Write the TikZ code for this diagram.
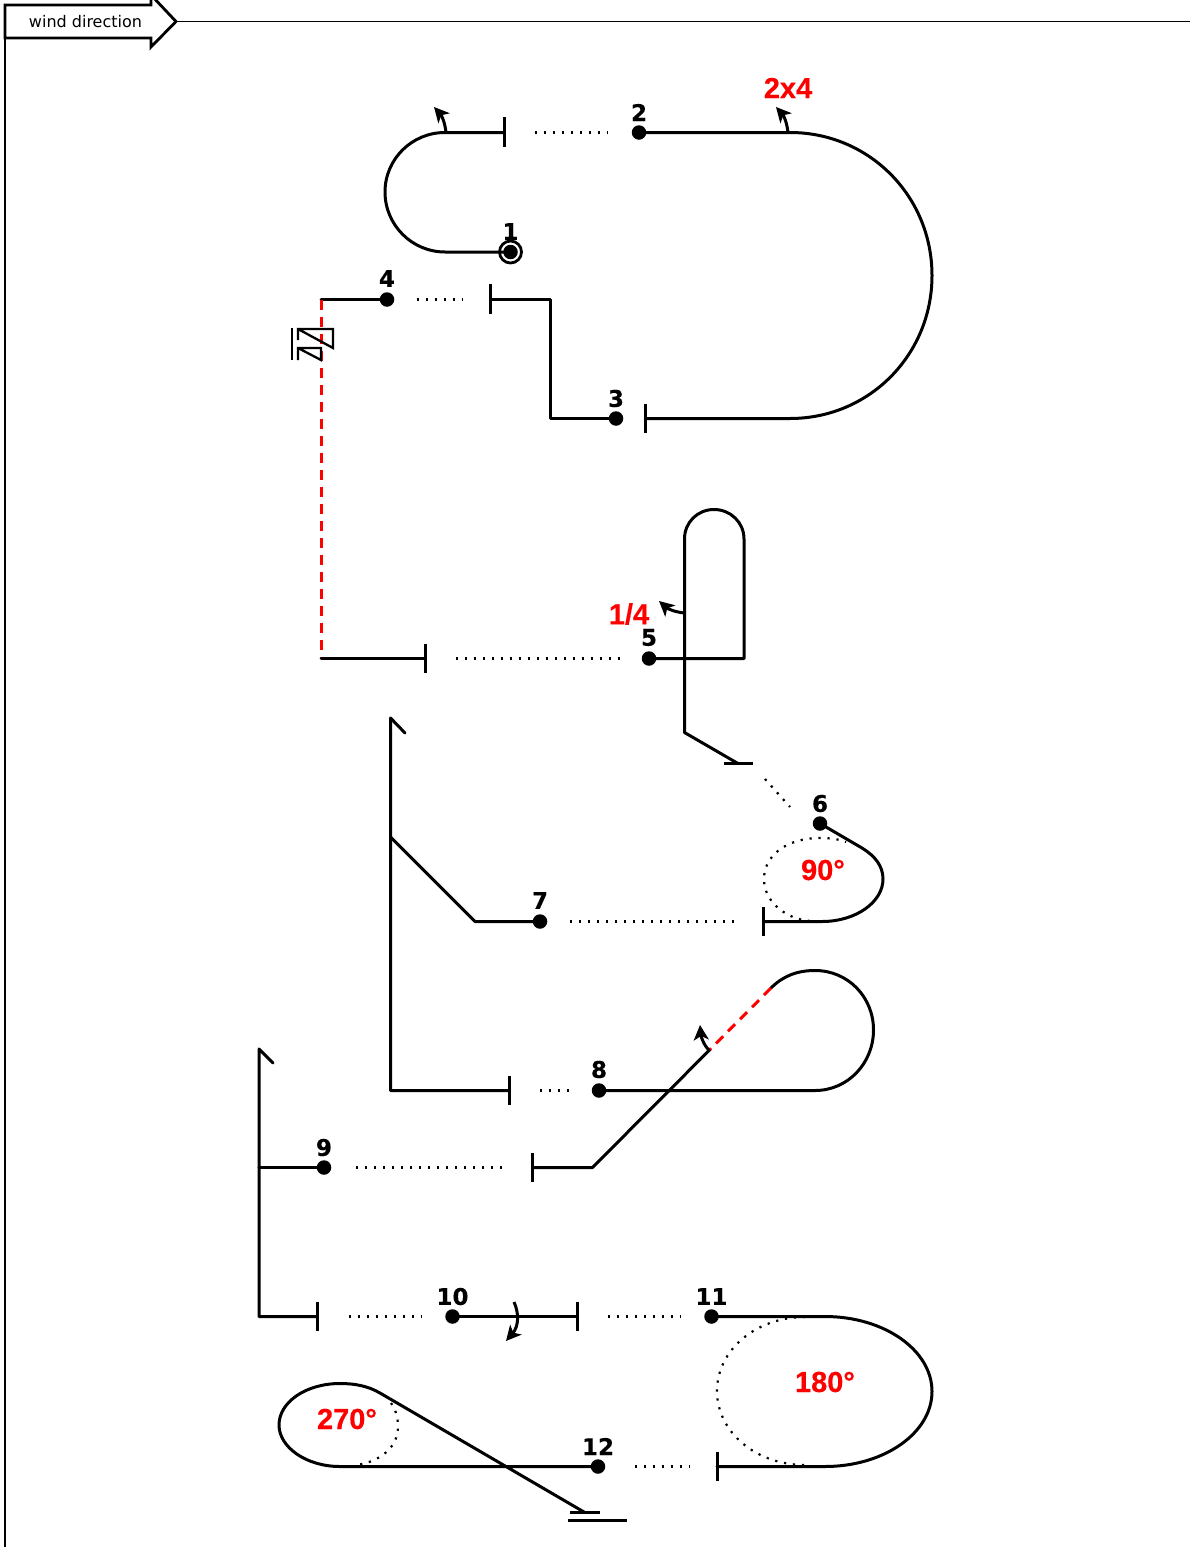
\documentclass[tikz,border=0pt]{standalone}
\usepackage{fontspec}
\setmainfont{DejaVu Sans}
\newfontfamily\redfont{Liberation Sans}[BoldFeatures={FakeBold=0.4}]
\newfontfamily\numfont{DejaVu Sans}[BoldFeatures={FakeBold=0.3}]
\usetikzlibrary{arrows.meta}
\definecolor{redtxt}{RGB}{255,0,0}
\tikzset{
  x=1pt,y=-1pt,
  track/.style={draw=black,line width=3pt,line join=round,line cap=round},
  tick/.style={draw=black,line width=3pt},
  thin line/.style={draw=black,line width=1.7pt},
  dotline/.style={draw=black,line width=2.2pt,dash pattern=on 2.2pt off 6.8pt},
  reddash/.style={draw=red,line width=3pt,dash pattern=on 10pt off 7pt},
  turn/.style={draw=black,line width=3pt,-{Stealth[length=15pt,width=15pt,inset=4pt]}},
  wp/.style={circle,fill=black,minimum size=14.5pt,inner sep=0pt},
  num/.style={font=\fontsize{23}{23}\selectfont\numfont\bfseries,text=black,inner sep=0pt},
  redlab/.style={font=\fontsize{29}{29}\selectfont\redfont\bfseries,text=redtxt,inner sep=0pt},
}
\begin{document}
\begin{tikzpicture}
\useasboundingbox (0,0) rectangle (1190,1547);
\clip (0,0) rectangle (1190,1547);
% frame and wind arrow
\coordinate (tip) at (176,21.5);
\coordinate (rightend) at (1190,21.5);
\coordinate (framebot) at (5,1547);
\draw[thin line] (tip) -- (rightend);
\draw[line width=2.8pt,line join=miter,fill=white] (5,5) -- (151,5) -- (151,-5) -- (tip) -- (151,47) -- (151,38) -- (5,38) -- cycle;
\node[inner sep=0pt,font=\fontsize{16}{16}\selectfont] (wind) at (85.5,22) {wind direction};
\draw[thin line] (5,38) -- (framebot);
% waypoints
\node[wp] (p1) at (510.5,252) {};
\node[wp] (p2) at (639,132.5) {};
\node[wp] (p3) at (616,418.5) {};
\node[wp] (p4) at (387,299.5) {};
\node[wp] (p5) at (649,658.5) {};
\node[wp] (p6) at (820,823.5) {};
\node[wp] (p7) at (540,921.5) {};
\node[wp] (p8) at (599,1090.5) {};
\node[wp] (p9) at (324,1167.5) {};
\node[wp] (p10) at (452.5,1316.5) {};
\node[wp] (p11) at (711.5,1316.5) {};
\node[wp] (p12) at (598,1466.5) {};
\node[draw=black,line width=2.8pt,circle,minimum size=22pt,inner sep=0pt] (ring) at (p1) {};
% numbers
\node[num] (n1) at (510.5,231.5) {1};
\node[num] (n2) at (639,112.5) {2};
\node[num] (n3) at (616,398.5) {3};
\node[num] (n4) at (387,278.5) {4};
\node[num] (n5) at (649,637.5) {5};
\node[num] (n6) at (820,803.5) {6};
\node[num] (n7) at (540,900.5) {7};
\node[num] (n8) at (599,1069.5) {8};
\node[num] (n9) at (324,1147.5) {9};
\node[num] (n10) at (452.5,1296.5) {10};
\node[num] (n11) at (711.5,1296.5) {11};
\node[num] (n12) at (598,1446.5) {12};
% red labels
\node[redlab] (l2x4) at (788,88) {2x4};
\node[redlab] (l14) at (629,614) {1/4};
\node[redlab] (l90) at (823,870) {90°};
\node[redlab] (l180) at (825,1382) {180°};
\node[redlab] (l270) at (347,1419) {270°};
% leg 1-2
\draw[track] (p1.center) -- (445,252) .. controls (412,252) and (385,225) .. (385,192) .. controls (385,159) and (412,132.5) .. (445,132.5) -- (504.5,132.5);
\draw[tick] (504.5,117) -- (504.5,147);
\draw[dotline] (534.5,132.5) -- (607,132.5);
\draw[turn] (446,132.5) .. controls (445,123) and (442,116) .. (434,107);
% leg 2-3
\draw[track] (p2.center) -- (790,132.5) .. controls (869,132.5) and (932,196) .. (932,275.5) .. controls (932,355) and (869,418.5) .. (790,418.5) -- (645.5,418.5);
\draw[tick] (645.5,404) -- (645.5,433);
\draw[turn] (788,132.5) .. controls (787,123) and (784,116) .. (776,107);
% leg 3-4
\draw[track] (p3.center) -- (550.5,418.5) -- (550.5,299.5) -- (490.5,299.5);
\draw[tick] (490.5,284) -- (490.5,314);
\draw[dotline] (416.5,299.5) -- (463,299.5);
% leg 4-5
\draw[track] (p4.center) -- (321,299.5);
\draw[reddash] (321,299.5) -- (321,658.5);
\draw[track] (321,658.5) -- (425.5,658.5);
\draw[tick] (425.5,644) -- (425.5,673);
\draw[dotline] (455.5,658.5) -- (621,658.5);
% pitch symbol
\draw[line width=2.8pt] (292,328) -- (292,360);
\draw[line width=2.3pt,line join=miter] (298,340) -- (298,329) -- (333,329) -- (333,348) -- (298,329);
\draw[line width=2.3pt,line join=miter] (298,360) -- (298,348) -- (321,348) -- (321,360) -- (298,348);
% leg 5-6
\draw[track] (p5.center) -- (744,658.5) -- (744,539) .. controls (744,522.4) and (730.6,509.5) .. (714,509.5) .. controls (697.4,509.5) and (684.5,522.4) .. (684.5,539) -- (684.5,732.5) -- (738,763.5);
\draw[tick] (724,763.5) -- (753,763.5);
\draw[turn] (684.5,613) .. controls (675,612) and (668,609) .. (659,601);
\draw[dotline] (765,779) -- (790,807);
% leg 6-7
\draw[track] (p6.center) -- (862,848) .. controls (875,856) and (883,866) .. (883,879) .. controls (883,902) and (856,921.5) .. (822,921.5) -- (763.5,921.5);
\draw[tick] (763.5,907) -- (763.5,936);
\draw[dotline] (810,921) .. controls (786,919) and (764,902) .. (764,879) .. controls (764,856) and (786,838) .. (820,838) .. controls (830,838) and (838,839) .. (846,842);
\draw[dotline] (570,921.5) -- (736,921.5);
% leg 7-8
\draw[track] (p7.center) -- (475,921.5) -- (390.5,837);
\draw[track] (405,733) -- (390.5,718) -- (390.5,1090.5) -- (509.5,1090.5);
\draw[tick] (509.5,1076) -- (509.5,1105);
\draw[dotline] (540,1090.5) -- (569,1090.5);
% leg 8-9
\draw[track] (p8.center) -- (815,1090.5) .. controls (848,1090.5) and (873.5,1063) .. (873.5,1030) .. controls (873.5,997) and (848,970.5) .. (815,970.5) .. controls (797,970.5) and (783,976) .. (771,988);
\draw[track] (710,1049.5) -- (592.5,1167.5) -- (532.5,1167.5);
\draw[reddash] (771,988) -- (710,1049.5);
\draw[tick] (532.5,1153) -- (532.5,1182);
\draw[turn] (709,1050.5) .. controls (704,1045) and (701,1037) .. (700,1025);
\draw[dotline] (356,1167.5) -- (505,1167.5);
% leg 9-10
\draw[track] (p9.center) -- (259,1167.5);
\draw[track] (273,1063) -- (259,1049) -- (259,1316.5) -- (317.5,1316.5);
\draw[tick] (317.5,1302) -- (317.5,1331);
\draw[dotline] (348.5,1316.5) -- (421,1316.5);
% leg 10-11
\draw[track] (p10.center) -- (577.5,1316.5);
\draw[tick] (577.5,1302) -- (577.5,1331);
\draw[turn] (514,1302) .. controls (519,1313) and (519,1326) .. (506,1341);
\draw[dotline] (607.5,1316.5) -- (680,1316.5);
% leg 11-12
\draw[track] (p11.center) -- (825,1316.5) .. controls (884,1316.5) and (932,1350) .. (932,1391.5) .. controls (932,1433) and (884,1466.5) .. (825,1466.5) -- (717,1466.5);
\draw[tick] (717,1452) -- (717,1481);
\draw[dotline] (805,1317) .. controls (756,1317) and (717,1350) .. (717,1391) .. controls (717,1432) and (756,1465) .. (805,1465);
\draw[dotline] (634.5,1466.5) -- (690,1466.5);
% leg 12-end
\draw[track] (p12.center) -- (340,1466.5) .. controls (306,1466.5) and (279,1447) .. (279,1425) .. controls (279,1402) and (306,1383.5) .. (340,1383.5) .. controls (355,1383.5) and (368,1386) .. (380,1393) -- (584,1512);
\draw[dotline] (391,1403) .. controls (396,1410) and (398,1418) .. (398,1427) .. controls (398,1447) and (380,1462) .. (356,1465);
\draw[tick] (570,1512.5) -- (600,1512.5);
\draw[tick] (568,1520) -- (627,1520);
\end{tikzpicture}
\end{document}
